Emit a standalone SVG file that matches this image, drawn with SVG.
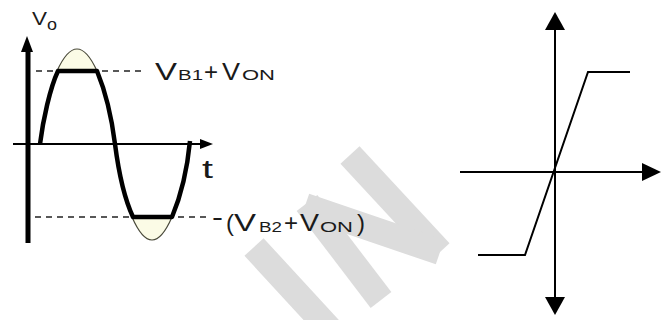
<svg xmlns="http://www.w3.org/2000/svg" width="664" height="320" viewBox="0 0 664 320">
<style>
.wm{stroke:#dcdcdc;stroke-width:26;fill:none;stroke-linecap:butt}
.ax{stroke:#000;fill:none}
.dash{stroke:#222;stroke-width:1.6;stroke-dasharray:6 5;fill:none}
.lbl{font-family:"Liberation Sans",Arial,sans-serif;fill:#1a1a1a}
.big{font-size:24px}
.sub{font-size:14px}
</style>
<defs>
<marker id="ah" markerWidth="10" markerHeight="10" viewBox="0 0 10 10" refX="10" refY="5" orient="auto" markerUnits="userSpaceOnUse">
<path d="M0,0 L10,5 L0,10 Z" fill="#000"/>
</marker>
</defs>
<rect width="664" height="320" fill="#fff"/>
<g id="watermark">
<line class="wm" x1="254" y1="247" x2="335" y2="335"/>
<line class="wm" x1="307" y1="203" x2="381" y2="300"/>
<line class="wm" x1="350" y1="155" x2="440" y2="252"/>
<line class="wm" x1="305" y1="206" x2="440" y2="252"/>
</g>
<g id="waveform-plot">
<g id="axes-left">
<line class="ax" x1="28" y1="48" x2="28" y2="243" stroke-width="5"/>
<path d="M27,36 L21,52 L33,52 Z" fill="#000"/>
<line class="ax" x1="13" y1="144" x2="202" y2="144" stroke-width="2"/>
<path d="M213,144 L200,139 L200,149 Z" fill="#000"/>
</g>
<g id="levels">
<line class="dash" x1="36" y1="71" x2="142" y2="71"/>
<line class="dash" x1="35" y1="217" x2="207" y2="217"/>
</g>
<g id="ideal-sine">
<path d="M57,71 Q77,27 97,71" fill="#fbfbe6" stroke="#4a4a3a" stroke-width="1.2"/>
<path d="M132,217 Q152,263 172,217" fill="#fbfbe6" stroke="#4a4a3a" stroke-width="1.2"/>
</g>
<g id="clipped-wave">
<path d="M40,144 C43,120 50,88 58,71 L97,71 C104,88 111,112 115,144 C119,175 125,200 133,217 L172,217 C180,198 187,172 190,141" fill="none" stroke="#000" stroke-width="4.5" stroke-linejoin="round"/>
</g>
<g id="labels-left">
<text class="lbl" x="32" y="25" font-size="18" textLength="15" lengthAdjust="spacingAndGlyphs">V</text>
<text class="lbl" x="47" y="30" font-size="16" textLength="10" lengthAdjust="spacingAndGlyphs">o</text>
<text class="lbl" x="202" y="178" font-size="26" textLength="11" lengthAdjust="spacingAndGlyphs">t</text>
<text class="lbl big" x="155" y="80" textLength="22" lengthAdjust="spacingAndGlyphs">V</text>
<text class="lbl sub" x="178" y="80" textLength="25" lengthAdjust="spacingAndGlyphs">B1</text>
<text class="lbl big" x="204" y="80">+</text>
<text class="lbl big" x="222" y="80" textLength="18" lengthAdjust="spacingAndGlyphs">V</text>
<text class="lbl sub" x="242" y="80" textLength="33" lengthAdjust="spacingAndGlyphs">ON</text>
<text class="lbl" x="212" y="226" font-size="26" textLength="11" lengthAdjust="spacingAndGlyphs">-</text>
<text class="lbl big" x="226" y="231">(</text>
<text class="lbl big" x="234" y="231" textLength="22" lengthAdjust="spacingAndGlyphs">V</text>
<text class="lbl sub" x="259" y="232" textLength="23" lengthAdjust="spacingAndGlyphs">B2</text>
<text class="lbl big" x="284" y="231">+</text>
<text class="lbl big" x="300" y="231" textLength="19" lengthAdjust="spacingAndGlyphs">V</text>
<text class="lbl sub" x="320" y="232" textLength="33" lengthAdjust="spacingAndGlyphs">ON</text>
<text class="lbl big" x="357" y="231">)</text>
</g>
</g>
<g id="transfer-plot">
<g id="axes-right">
<line class="ax" x1="555" y1="26" x2="555" y2="300" stroke-width="2"/>
<path d="M555,12 L545,30 L565,30 Z" fill="#000"/>
<path d="M555,315 L545,297 L565,297 Z" fill="#000"/>
<line class="ax" x1="460" y1="172" x2="644" y2="172" stroke-width="2"/>
<path d="M661,172 L642,163 L642,181 Z" fill="#000"/>
</g>
<g id="transfer-curve">
<polyline points="478,255 525,255 588,72 630,72" fill="none" stroke="#000" stroke-width="2"/>
</g>
</g>
</svg>
